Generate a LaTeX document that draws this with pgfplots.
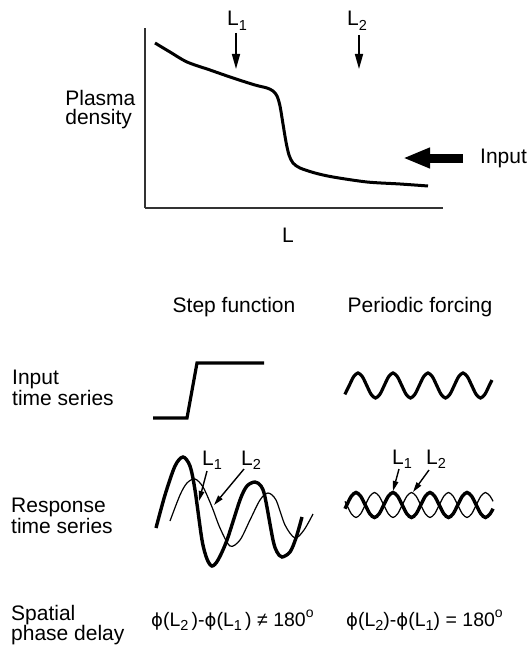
\documentclass[border=0pt]{standalone}
\usepackage{pgfplots}
\pgfplotsset{compat=1.18}
\usepackage{fontspec}
\setmainfont{Liberation Sans}
\newfontfamily\dejavu{DejaVu Sans}
\usetikzlibrary{arrows.meta}

\newcommand\sub[1]{\raisebox{-0.22em}{\fontsize{14.5bp}{14.5bp}\selectfont #1}}
\newcommand\phs{{\dejavu\fontsize{18bp}{18bp}\selectfont\symbol{"03D5}}}
\newcommand\degr{\raisebox{0.45em}{\fontsize{14bp}{14bp}\selectfont o}}

\begin{document}
\begin{tikzpicture}[font=\fontsize{21bp}{19bp}\selectfont,
  thinarr/.style={line width=1.4bp, -{Triangle[length=10bp,width=5.5bp]}},
  toparr/.style={line width=1.5bp, -{Triangle[length=15bp,width=8bp]}}]
\useasboundingbox (0,0) rectangle (530bp,646bp);

% top panel: density profile
\begin{axis}[at={(145bp,438bp)}, anchor=south west, scale only axis,
  width=298bp, height=180bp,
  xmin=145, xmax=443, ymin=0, ymax=180,
  axis x line=bottom, axis y line=left,
  axis line style={-, line width=1.2bp, black!80},
  xtick=\empty, ytick=\empty,
  xlabel={L}, ylabel={Plasma\\density},
  xlabel style={at={(axis description cs:0.48,-0.189)}, anchor=base, inner sep=0pt},
  ylabel style={at={(axis description cs:-0.268,0.656)}, rotate=-90,
    anchor=north west, align=left, inner sep=0pt},
  clip=false]
\addplot[smooth, line width=3bp, black] coordinates {
  (155,165) (170,156) (187,146) (210,138) (233,130) (255,123) (267,120)
  (273,117) (277,112) (280,102) (283,84) (286,66) (289,53) (293,45)
  (300,40) (315,35) (333,31) (367,26) (400,24) (428,22)};
\end{axis}

% lower panels, in picture units
\begin{axis}[at={(265bp,323bp)}, anchor=center, scale only axis,
  width=530bp, height=646bp,
  xmin=0, xmax=530, ymin=0, ymax=646, y dir=reverse,
  hide axis, clip=false]

% step input
\addplot[line width=3.2bp, black, sharp plot] coordinates {
  (153,418) (187,418) (197,363) (264,363)};

% periodic input
\addplot[smooth, line width=3.2bp, black] coordinates {
  (344.875,394.34) (349.25,385.5) (353.625,376.66) (358,373) (362.375,376.66)
  (366.75,385.5) (371.125,394.34) (375.5,398) (379.875,394.34) (384.25,385.5)
  (388.625,376.66) (393,373) (397.375,376.66) (401.75,385.5) (406.125,394.34)
  (410.5,398) (414.875,394.34) (419.25,385.5) (423.625,376.66) (428,373)
  (432.375,376.66) (436.75,385.5) (441.125,394.34) (445.5,398) (449.875,394.34)
  (454.25,385.5) (458.625,376.66) (463,373) (467.375,376.66) (471.75,385.5)
  (476.125,394.34) (480.5,398) (484.875,394.34) (489.25,385.5) (492,380)};

% step response, L1 (thick) and L2 (thin)
\addplot[smooth, line width=3.4bp, black] coordinates {
  (156,528) (165,495) (175,466) (183,457) (190,466) (195,490) (202,540)
  (207,559) (212,566) (218,560) (227,540) (240,500) (247,486) (255,482)
  (261,486) (265,497) (273,540) (277,552) (282,557) (290,552) (296,538)
  (302,517)};
\addplot[smooth, line width=1.2bp, black] coordinates {
  (170,521) (180,495) (187,483) (195,479) (203,487) (212,507) (220,528)
  (230,546) (240,540) (250,520) (260,500) (268,493) (276,500) (285,525)
  (295,538) (304,530) (313,514)};

% periodic response, L1 (thick) and L2 (thin)
\addplot[smooth, line width=3.4bp, black] coordinates {
  (345,508.7) (346.75,505) (351.375,496.16) (356,492.5) (360.625,496.16)
  (365.25,505) (369.875,513.84) (374.5,517.5) (379.125,513.84) (383.75,505)
  (388.375,496.16) (393,492.5) (397.625,496.16) (402.25,505) (406.875,513.84)
  (411.5,517.5) (416.125,513.84) (420.75,505) (425.375,496.16) (430,492.5)
  (434.625,496.16) (439.25,505) (443.875,513.84) (448.5,517.5) (453.125,513.84)
  (457.75,505) (462.375,496.16) (467,492.5) (471.625,496.16) (476.25,505)
  (480.875,513.84) (485.5,517.5) (490.125,513.84) (493,508.7)};
\addplot[smooth, line width=1.2bp, black] coordinates {
  (345,501.3) (346.75,505) (351.375,513.84) (356,517.5) (360.625,513.84)
  (365.25,505) (369.875,496.16) (374.5,492.5) (379.125,496.16) (383.75,505)
  (388.375,513.84) (393,517.5) (397.625,513.84) (402.25,505) (406.875,496.16)
  (411.5,492.5) (416.125,496.16) (420.75,505) (425.375,513.84) (430,517.5)
  (434.625,513.84) (439.25,505) (443.875,496.16) (448.5,492.5) (453.125,496.16)
  (457.75,505) (462.375,513.84) (467,517.5) (471.625,513.84) (476.25,505)
  (480.875,496.16) (485.5,492.5) (490.125,496.16) (493,501.3)};

% annotations of the top panel
\node[anchor=base, inner sep=0pt] at (237,26) {L\sub{1}};
\node[anchor=base, inner sep=0pt] at (357,26) {L\sub{2}};
\draw[toparr] (236,33) -- (236,69);
\draw[toparr] (359,35) -- (359,69);
\draw[line width=9bp, -{Triangle[length=27bp,width=19bp]}] (463,158) -- (403,158);
\node[anchor=west, inner sep=0pt] at (480,158) {Input};

% column and row titles
\node[anchor=base, inner sep=0pt] at (234,312) {Step function};
\node[anchor=base, inner sep=0pt] at (420,312) {Periodic forcing};
\node[anchor=north west, align=left, inner sep=0pt] at (12,370) {Input\\time series};
\node[anchor=north west, align=left, inner sep=0pt] at (11,498) {Response\\time series};
\node[anchor=north west, align=left, inner sep=0pt] at (11,605) {Spatial\\phase delay};

% response labels
\node[anchor=base west, inner sep=0pt] at (202,465) {L\sub{1}};
\node[anchor=base west, inner sep=0pt] at (241,465) {L\sub{2}};
\draw[thinarr] (207,471) -- (199,501);
\draw[thinarr] (244,469) -- (214,505);
\node[anchor=base west, inner sep=0pt] at (392,464) {L\sub{1}};
\node[anchor=base west, inner sep=0pt] at (426,464) {L\sub{2}};
\draw[thinarr] (399,469) -- (393,491);
\draw[thinarr] (429,470) -- (413,492);

% phase delay formulas
\node[anchor=base west, inner sep=0pt, font=\fontsize{19.5bp}{19bp}\selectfont] at (151,626)
  {\phs(L\sub{2}\,)-\phs(L\sub{1}\,) \symbol{"2260} 180\degr};
\node[anchor=base west, inner sep=0pt, font=\fontsize{19.5bp}{19bp}\selectfont] at (346,626)
  {\phs(L\sub{2})-\phs(L\sub{1}) = 180\degr};
\end{axis}
\end{tikzpicture}
\end{document}
